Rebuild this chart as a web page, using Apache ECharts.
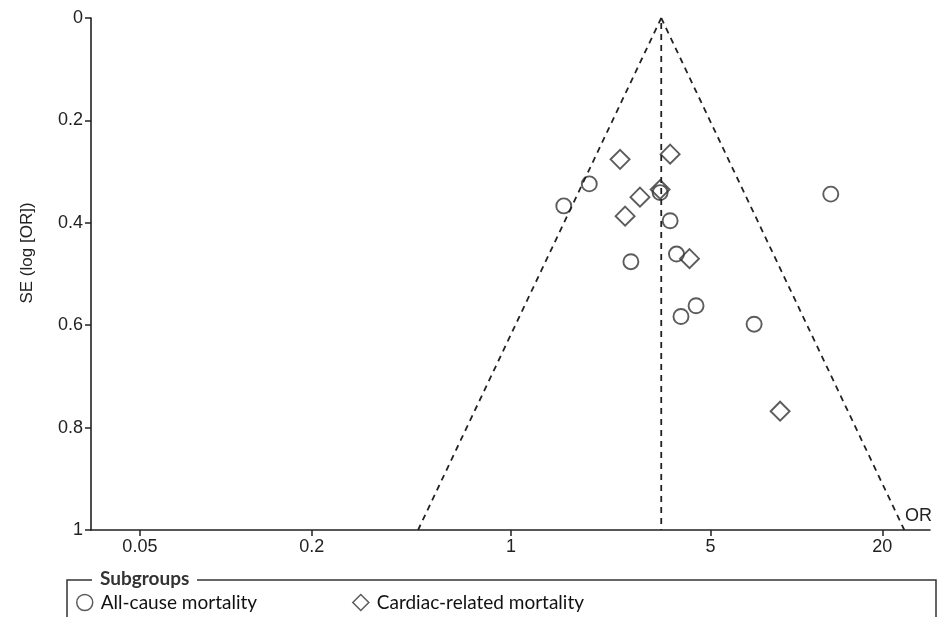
<!DOCTYPE html>
<html>
<head>
<meta charset="utf-8">
<script src="https://cdn.jsdelivr.net/npm/echarts@6/dist/echarts.min.js"></script>
<style>
  html, body { margin: 0; padding: 0; background: #fff; }
  #chart { width: 942px; height: 617px; }
</style>
</head>
<body>
<div id="chart"></div>
<script>
// study estimates (odds ratio, standard error of log OR)
const allCauseOR = [1.88, 1.53, 3.33, 3.61, 3.80, 2.63, 4.45, 3.94, 7.11, 13.2];
const allCauseSE = [0.324, 0.367, 0.341, 0.396, 0.461, 0.476, 0.562, 0.583, 0.598, 0.344];
const cardiacOR = [2.41, 3.61, 3.33, 2.83, 2.51, 4.22, 8.77];
const cardiacSE = [0.276, 0.266, 0.335, 0.350, 0.387, 0.470, 0.768];

// pooled estimate and funnel limits (apex at SE 0, base at SE 1)
const pooledOR = 3.36;
const funnelSE = [0, 1];
const funnelLeftOR = [3.36, 0.472];
const funnelRightOR = [3.36, 23.9];

const xTickValues = [0.05, 0.2, 1, 5, 20];
const xRange = [0.0337, 29.4];
const seriesNames = ['All-cause mortality', 'Cardiac-related mortality'];

const lg = v => Math.log10(v);
const pairs = (ors, ses) => ors.map((o, i) => [lg(o), ses[i]]);

const ink = '#333';
const font = '"Liberation Sans", Arial, sans-serif';
const dashed = { color: '#222', width: 1.8, type: [6, 5] };

const chart = echarts.init(document.getElementById('chart'));

chart.setOption({
  animation: false,
  grid: { left: 91, right: 12, top: 18, bottom: 87 },
  xAxis: {
    type: 'value',
    position: 'bottom',
    min: lg(xRange[0]),
    max: lg(xRange[1]),
    splitLine: { show: false },
    axisLine: { onZero: false, lineStyle: { color: '#222', width: 1.6 } },
    axisTick: { customValues: xTickValues.map(lg), length: 6, lineStyle: { color: '#222', width: 1.5 } },
    axisLabel: {
      customValues: xTickValues.map(lg),
      formatter: v => String(+Math.pow(10, v).toPrecision(2)),
      color: '#222', fontSize: 18, fontFamily: font, margin: 8
    }
  },
  yAxis: {
    type: 'value',
    position: 'left',
    inverse: true,
    min: 0, max: 1, interval: 0.2,
    name: 'SE (log [OR])',
    nameLocation: 'middle',
    nameGap: 55,
    nameTextStyle: { color: '#222', fontSize: 17, fontFamily: font, padding: [0, 0, 0, 42] },
    splitLine: { show: false },
    axisLine: { onZero: false, lineStyle: { color: '#222', width: 1.6 } },
    axisTick: { length: 6, lineStyle: { color: '#222', width: 1.5 } },
    axisLabel: { color: '#222', fontSize: 18, fontFamily: font, margin: 8 }
  },
  legend: {
    left: 71, top: 588,
    itemWidth: 16, itemHeight: 16, itemGap: 95,
    selectedMode: false,
    textStyle: { color: '#111', fontSize: 19, fontFamily: 'Lato', padding: [0, 0, 0, 3] },
    data: [
      { name: seriesNames[0], icon: 'circle', itemStyle: { color: 'transparent', borderColor: ink, borderWidth: 1.5 } },
      { name: seriesNames[1], icon: 'diamond', itemStyle: { color: 'transparent', borderColor: ink, borderWidth: 1.5 } }
    ]
  },
  graphic: [
    { type: 'polyline', silent: true, shape: { points: [[67, 650], [67, 580], [92, 580]] }, style: { stroke: ink, lineWidth: 1.5, fill: null } },
    { type: 'text', silent: true, x: 100, y: 579, style: { text: 'Subgroups', fontFamily: 'Lato', fontWeight: 'bold', fontSize: 19, fill: '#333', verticalAlign: 'middle' } },
    { type: 'polyline', silent: true, shape: { points: [[197, 580], [936, 580], [936, 650]] }, style: { stroke: ink, lineWidth: 1.5, fill: null } },
    { type: 'text', silent: true, x: 905, y: 516, style: { text: 'OR', fontFamily: font, fontSize: 18, fill: '#222', verticalAlign: 'middle' } }
  ],
  series: [
    {
      type: 'line', silent: true, symbol: 'none', lineStyle: dashed,
      data: pairs(funnelLeftOR, funnelSE)
    },
    {
      type: 'line', silent: true, symbol: 'none', lineStyle: dashed,
      data: pairs(funnelRightOR, funnelSE)
    },
    {
      type: 'line', silent: true, symbol: 'none', lineStyle: dashed,
      data: pairs([pooledOR, pooledOR], [0.01, 1])
    },
    {
      name: seriesNames[0],
      type: 'scatter',
      symbol: 'circle',
      symbolSize: 15,
      itemStyle: { color: 'transparent', borderColor: ink, borderWidth: 1.9 },
      data: pairs(allCauseOR, allCauseSE)
    },
    {
      name: seriesNames[1],
      type: 'scatter',
      symbol: 'diamond',
      symbolSize: 19,
      itemStyle: { color: 'transparent', borderColor: ink, borderWidth: 1.9 },
      data: pairs(cardiacOR, cardiacSE)
    }
  ]
});
</script>
</body>
</html>
